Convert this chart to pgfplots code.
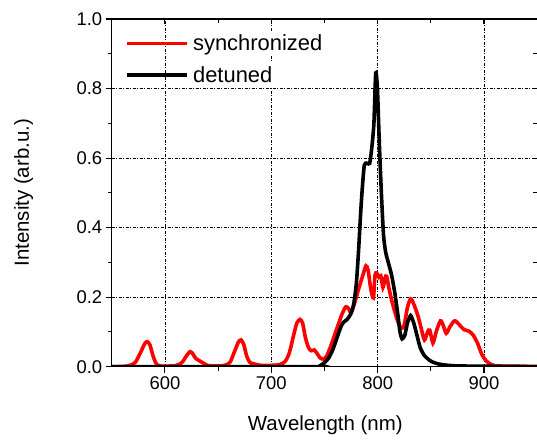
\documentclass[border=0pt]{standalone}
\usepackage{pgfplots}
\pgfplotsset{compat=1.18}
\usepackage{fontspec}
\setmainfont{Liberation Sans}

\pgfplotsset{
  frame/.style={
    scale only axis, width=425.5bp, height=347.7bp,
    at={(0,0)}, anchor=south west,
    xmin=550, xmax=950, ymin=0, ymax=1,
    xtick={600,700,800,900}, minor xtick={650,750,850,950},
    ytick={0,0.2,0.4,0.6,0.8,1.0}, minor ytick={0.1,0.3,0.5,0.7,0.9},
    axis line style={line width=1.3bp},
    every tick/.style={black, line width=1.1bp},
  }
}

\begin{document}
\begin{tikzpicture}
\begin{axis}[frame,
    tick align=outside, xtick pos=left, ytick pos=left,
    major tick length=6bp, minor tick length=4bp,
    grid=major,
    major grid style={black, line width=0.6bp, dash pattern=on 3bp off 1.5bp on 1bp off 1.5bp},
    /pgf/number format/assume math mode=true,
    tick label style={font=\fontsize{18.5}{20}\selectfont},
    y tick label style={/pgf/number format/fixed, /pgf/number format/fixed zerofill, /pgf/number format/precision=1},
    label style={font=\fontsize{20.5}{22}\selectfont},
    xlabel={Wavelength (nm)}, ylabel={Intensity (arb.u.)},
    xlabel style={at={(axis description cs:0.502,-0.168)}, anchor=center},
    ylabel style={at={(axis description cs:-0.207,0.5)}, anchor=center},
    legend image code/.code={\draw[#1] (0bp,0bp) -- (60bp,0bp);},
    legend style={draw=none, fill=none, at={(axis description cs:0.025,0.972)}, anchor=north west,
      font=\fontsize{22}{24}\selectfont, nodes={fill=white, inner sep=4bp}, row sep=6bp},
    legend cell align=left]

% synchronized
\addplot[red, line width=3.6bp, smooth, tension=0.45] coordinates {
(550,0) (565,0.002) (572,0.012) (577,0.04) (581,0.066) (583.5,0.072) (586,0.062) (589,0.03)
(592,0.008) (596,0.002) (610,0.003) (616,0.012) (620,0.03) (623.5,0.043) (626,0.038)
(629,0.024) (633,0.016) (637,0.009) (641,0.003) (655,0.003) (661,0.012) (665,0.04)
(669,0.07) (671.5,0.077) (674,0.065) (677,0.03) (680,0.012) (684,0.008) (690,0.004)
(700,0.004) (708,0.006) (713,0.015) (717,0.04) (721,0.09) (724,0.125) (727,0.136)
(729.5,0.125) (732,0.085) (735,0.055) (737.5,0.046) (740.5,0.048) (743,0.038) (746,0.025)
(749,0.022) (752,0.03) (756,0.06) (760,0.095) (764,0.13) (767,0.155) (770,0.172)
(772.5,0.168) (775,0.155) (778,0.18) (782,0.222) (786,0.262) (789,0.29) (791,0.278)
(793.5,0.225) (796,0.198) (797.5,0.262) (799,0.27) (801,0.258) (803,0.262) (805,0.228)
(807,0.255) (808.5,0.26) (811,0.22) (815,0.17) (819,0.13) (822,0.11) (825,0.12)
(828,0.17) (831,0.195) (834,0.18) (838,0.145) (841,0.11) (844,0.077) (847,0.1)
(849,0.105) (852,0.068) (855,0.1) (859,0.132) (861.5,0.12) (864.5,0.096) (868,0.115)
(872.5,0.132) (877,0.12) (881,0.107) (886,0.102) (890,0.09) (894,0.067) (898,0.035)
(902,0.017) (907,0.006) (915,0.002) (950,0.001)};
\addlegendentry{synchronized}

% detuned
\addplot[black, line width=3.6bp, smooth, tension=0.4] coordinates {
(550,0) (740,0) (746,0.003) (750,0.012) (754,0.025) (758,0.05) (762,0.085) (765.5,0.115)
(768,0.128) (771,0.135) (774.5,0.15) (777.5,0.18) (780,0.24) (782,0.33) (784,0.44)
(785.5,0.51) (787.5,0.58) (790,0.585) (792.5,0.585) (794.5,0.63) (796.5,0.7) (798.2,0.845)
(799.8,0.8) (801.5,0.65) (803.5,0.5) (805.5,0.38) (807.5,0.33) (810,0.3) (813,0.265)
(816,0.215) (819,0.15) (821,0.1) (823,0.08) (825.5,0.09) (828,0.125) (831,0.147)
(834,0.125) (837,0.09) (840,0.055) (844,0.032) (850,0.016) (857,0.008) (866,0.004)
(880,0.002) (950,0)};
\addlegendentry{detuned}
\end{axis}

\begin{axis}[frame,
    tick align=inside, xtick pos=right, ytick pos=right,
    major tick length=5bp, minor tick length=4bp,
    xticklabels={}, yticklabels={}]
\end{axis}

\pgfresetboundingbox
\path[use as bounding box] (-111.7bp,-73.3bp) rectangle (425.3bp,366.7bp);
\end{tikzpicture}
\end{document}
